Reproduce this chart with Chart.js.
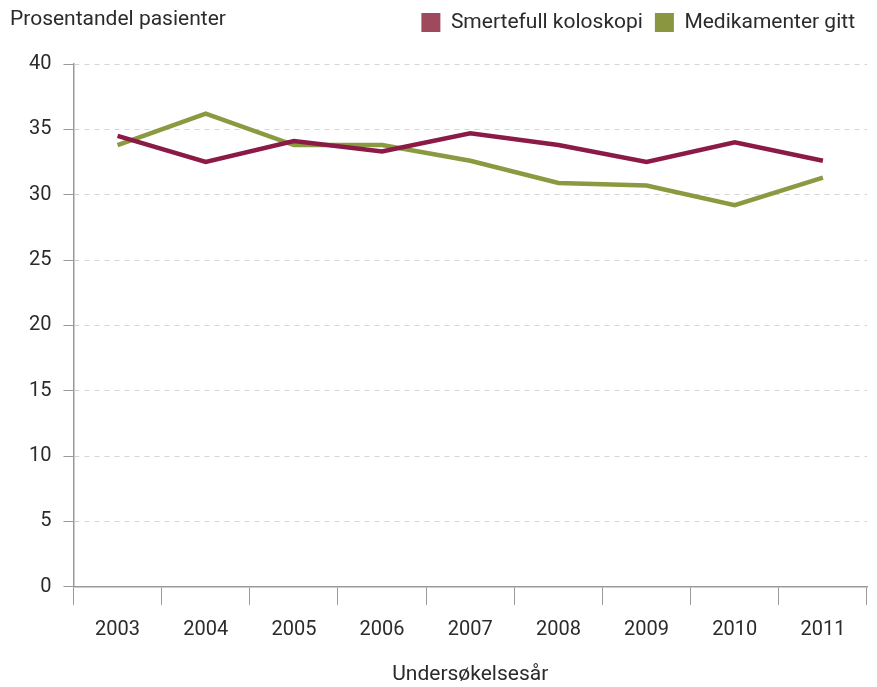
<!DOCTYPE html>
<html>
<head>
<meta charset="utf-8">
<script src="https://cdn.jsdelivr.net/npm/chart.js@4"></script>
<style>
  html, body { margin: 0; padding: 0; background: #fff; }
  #wrap { width: 877px; height: 687px; }
</style>
</head>
<body>
<div id="wrap"><canvas id="chart" width="877" height="687"></canvas></div>
<script>
const years = ['2003', '2004', '2005', '2006', '2007', '2008', '2009', '2010', '2011'];
const painful = [34.5, 32.5, 34.1, 33.3, 34.7, 33.8, 32.5, 34.0, 32.6];
const medicated = [33.8, 36.2, 33.8, 33.8, 32.6, 30.9, 30.7, 29.2, 31.3];
const yTicks = [0, 5, 10, 15, 20, 25, 30, 35, 40];

const FONT = 'Roboto, "DejaVu Sans", sans-serif';
const TEXT = '#2b2b2b';

// y-axis title sits top-left, on the legend row
const yTitle = {
  id: 'yTitle',
  afterDraw(chart) {
    const ctx = chart.ctx;
    ctx.save();
    ctx.font = '21px ' + FONT;
    ctx.fillStyle = TEXT;
    ctx.textBaseline = 'middle';
    ctx.textAlign = 'left';
    ctx.fillText('Prosentandel pasienter', 10, 20);
    ctx.restore();
  }
};

// extra room under the legend row
const legendSpacer = {
  id: 'legendSpacer',
  beforeInit(chart) {
    const fit = chart.legend.fit;
    chart.legend.fit = function() {
      fit.bind(chart.legend)();
      this.height += 21;
    };
  }
};

new Chart(document.getElementById('chart'), {
  type: 'line',
  data: {
    labels: years,
    datasets: [{
      label: 'Smertefull koloskopi',
      data: painful,
      borderColor: '#8c1a46',
      backgroundColor: '#9e4a5c',
      borderWidth: 4.5,
      pointRadius: 0,
      tension: 0
    }, {
      label: 'Medikamenter gitt',
      data: medicated,
      borderColor: '#8a9a40',
      backgroundColor: '#8a9640',
      borderWidth: 4.5,
      pointRadius: 0,
      tension: 0
    }]
  },
  options: {
    responsive: false,
    animation: false,
    layout: { padding: { left: 17, right: 10, top: 0, bottom: 0 } },
    plugins: {
      tooltip: { enabled: false },
      legend: {
        position: 'top',
        align: 'end',
        labels: {
          font: { family: FONT, size: 21 },
          color: TEXT,
          boxWidth: 19,
          boxHeight: 19,
          padding: 12,
          generateLabels(chart) {
            return Chart.defaults.plugins.legend.labels.generateLabels(chart).map(l => {
              l.fillStyle = chart.data.datasets[l.datasetIndex].backgroundColor;
              l.strokeStyle = l.fillStyle;
              l.lineWidth = 0;
              return l;
            });
          }
        }
      }
    },
    scales: {
      x: {
        offset: true,
        grid: {
          offset: true,
          drawOnChartArea: false,
          color: '#999',
          tickLength: 18
        },
        border: { color: '#999', width: 1.5 },
        ticks: { font: { family: FONT, size: 20 }, color: TEXT, padding: 13 },
        title: {
          display: true,
          text: 'Undersøkelsesår',
          font: { family: FONT, size: 21 },
          color: TEXT,
          padding: { top: 7, bottom: 0 }
        }
      },
      y: {
        min: 0,
        max: 40,
        afterBuildTicks(axis) { axis.ticks = yTicks.map(v => ({ value: v })); },
        grid: {
          color: '#d6d6d6',
          tickColor: '#999',
          tickBorderDash: [],
          tickLength: 10
        },
        border: { color: '#999', width: 1.5, dash: [5, 5] },
        ticks: { font: { family: FONT, size: 20 }, color: TEXT, padding: 12 }
      }
    }
  },
  plugins: [yTitle, legendSpacer]
});
</script>
</body>
</html>
